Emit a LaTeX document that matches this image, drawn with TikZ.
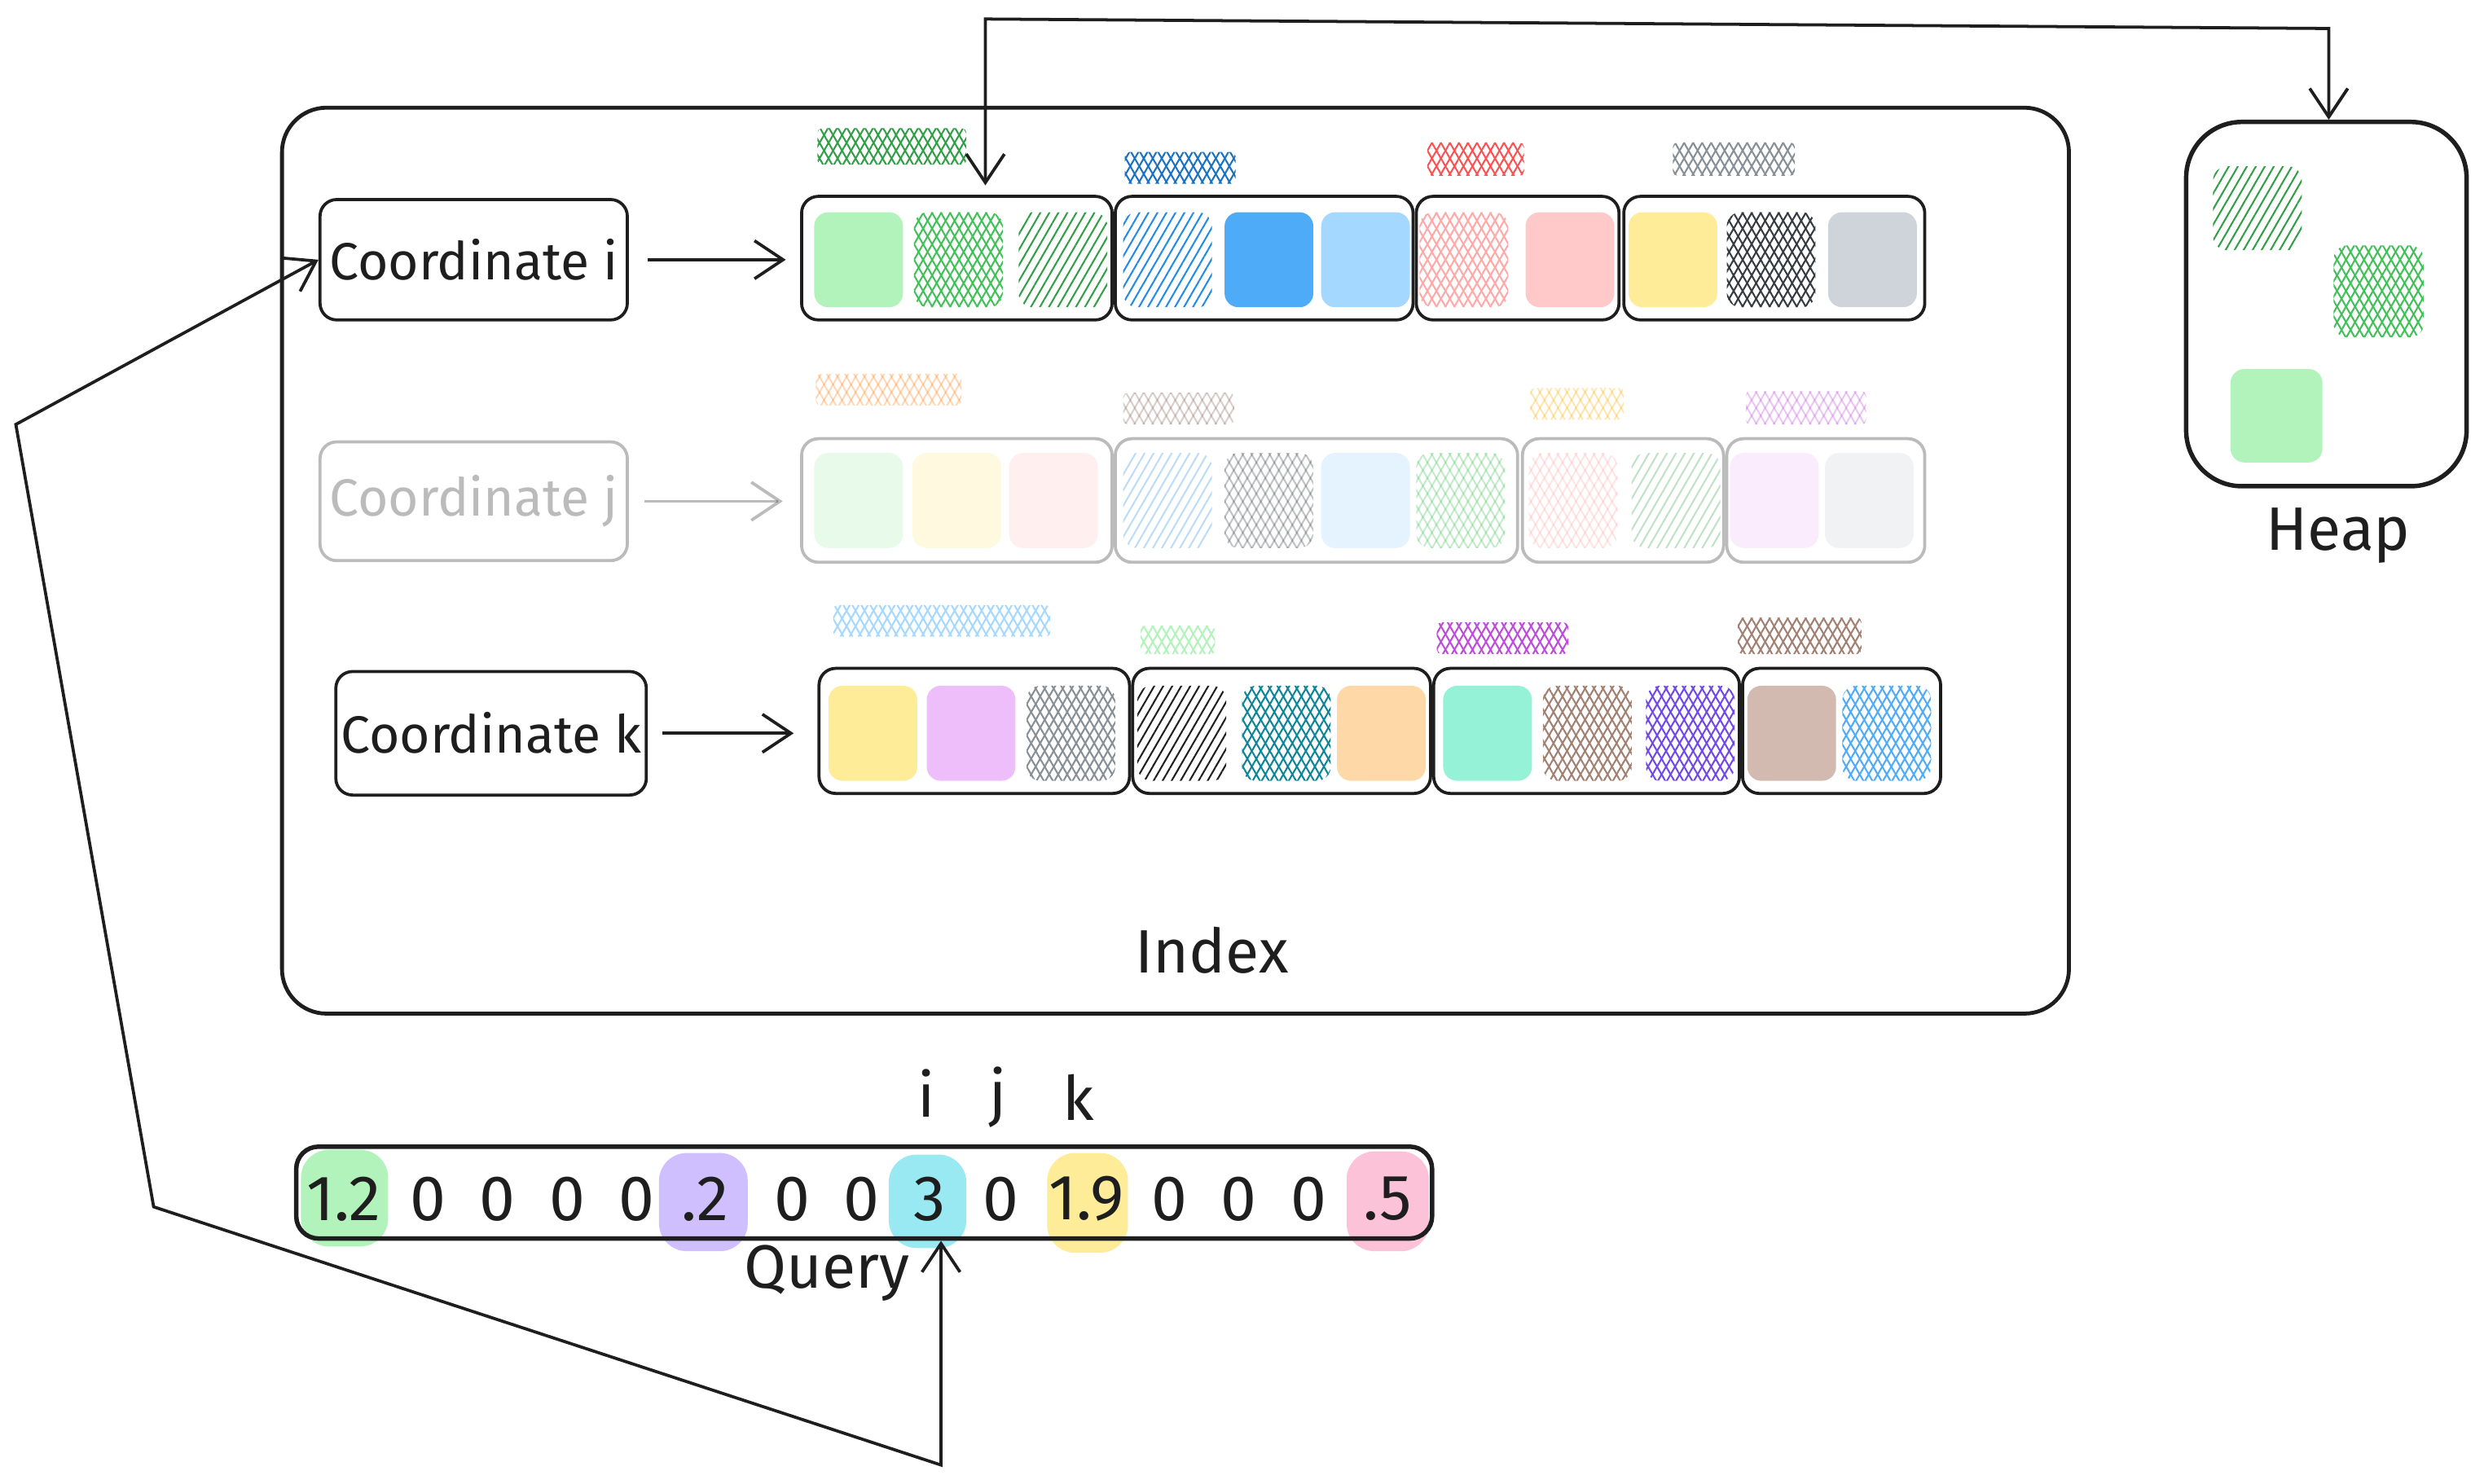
\documentclass[tikz,border=0pt]{standalone}
\usepackage{fontspec}
\setmainfont{Fira Sans}
\usetikzlibrary{arrows.meta, fit, patterns.meta, positioning}

% palette
\definecolor{ink}{HTML}{1E1E1E}
\definecolor{lgreen}{HTML}{B2F2BB}
\definecolor{green}{HTML}{40C057}
\definecolor{dgreen}{HTML}{2F9E44}
\definecolor{lblue}{HTML}{A5D8FF}
\definecolor{blue}{HTML}{4DABF7}
\definecolor{blue2}{HTML}{228BE6}
\definecolor{dblue}{HTML}{1971C2}
\definecolor{lred}{HTML}{FFC9C9}
\definecolor{red2}{HTML}{FFA8A8}
\definecolor{red}{HTML}{FA5252}
\definecolor{lyellow}{HTML}{FFEC99}
\definecolor{yellow}{HTML}{FAB005}
\definecolor{lgray}{HTML}{CED4DA}
\definecolor{gray}{HTML}{868E96}
\definecolor{dgray}{HTML}{343A40}
\definecolor{lgrape}{HTML}{EEBEFA}
\definecolor{grape}{HTML}{BE4BDB}
\definecolor{lviolet}{HTML}{D0BFFF}
\definecolor{violet}{HTML}{7048E8}
\definecolor{lteal}{HTML}{96F2D7}
\definecolor{teal}{HTML}{0C8599}
\definecolor{lorange}{HTML}{FFD8A8}
\definecolor{orange}{HTML}{FD7E14}
\definecolor{lbrown}{HTML}{D2BAB0}
\definecolor{brown}{HTML}{A18072}
\definecolor{dbrown}{HTML}{846358}
\definecolor{lcyan}{HTML}{99E9F2}
\definecolor{lpink}{HTML}{FCC2D7}

\newcommand{\swatch}[3]{\path[#3] (#1-28,#2-30) rectangle (#1+28,#2+30);}

\begin{document}
\begin{tikzpicture}[x=0.01cm, y=-0.01cm,
    >={Straight Barb[length=1.8mm,width=2.4mm]},
    grp/.style={draw=ink, line width=0.55pt, rounded corners=3pt, inner sep=0pt},
    ctext/.style={text=ink, font=\fontsize{9.4}{11}\selectfont},
    cbox/.style={grp, label={[ctext]center:#1}},
    container/.style={draw=ink, line width=0.7pt, rounded corners=8pt, inner sep=0pt},
    lbl/.style={text=ink, font=\fontsize{11}{13}\selectfont},
    val/.style={text=ink, font=\fontsize{11.5}{13}\selectfont},
    link/.style={draw=ink, line width=0.55pt},
    blob/.style={fill=#1, rounded corners=5pt},
    sfill/.style={fill=#1, rounded corners=2.5pt},
    hfill/.style={pattern={Lines[angle=60,distance=1.4pt,line width=0.3pt]}, pattern color=#1, rounded corners=2.5pt},
    xfill/.style={hfill=#1, preaction={pattern={Lines[angle=120,distance=1.4pt,line width=0.3pt]}, pattern color=#1}},
    tag/.style={xfill=#1, rounded corners=0.8pt}]
    \useasboundingbox (0,0) rectangle (1568,937);

    % Containers
    \node[container, fit={(178,68) (1306,640)}] (index) {};
    \node[lbl] (indexlabel) at (765,600) {Index};
    \node[container, line width=0.8pt, rounded corners=10pt, fit={(1380,77) (1557,307)}] (heap) {};
    \node[lbl] (heaplabel) at (1476,338) {Heap};

    % Heap contents
    \path[hfill=dgreen] (1397,105) rectangle (1453,158);
    \path[xfill=green] (1473,155) rectangle (1530,213);
    \path[sfill=lgreen] (1408,233) rectangle (1466,292);

    % Row i
    \node[cbox=Coordinate i, fit={(202,126) (396,202)}] (ci) {};
    \node[grp, fit={(506,124) (702,202)}] (i1) {};
    \node[grp, fit={(704,124) (892,202)}] (i2) {};
    \node[grp, fit={(894,124) (1022,202)}] (i3) {};
    \node[grp, fit={(1025,124) (1215,202)}] (i4) {};
    \swatch{542}{164}{sfill=lgreen}
    \swatch{605}{164}{xfill=green}
    \swatch{671}{164}{hfill=dgreen}
    \swatch{737}{164}{hfill=blue2}
    \swatch{801}{164}{sfill=blue}
    \swatch{862}{164}{sfill=lblue}
    \swatch{924}{164}{xfill=red2}
    \swatch{991}{164}{sfill=lred}
    \swatch{1056}{164}{sfill=lyellow}
    \swatch{1118}{164}{xfill=dgray}
    \swatch{1182}{164}{sfill=lgray}
    \path[tag=dgreen] (516,81) rectangle (610,104);
    \path[tag=dblue] (710,96) rectangle (780,116);
    \path[tag=red] (901,90) rectangle (962,111);
    \path[tag=gray] (1056,90) rectangle (1133,111);
    \draw[link, ->, shorten <=1.2mm, shorten >=0.9mm] (ci.east) -- (ci.east -| i1.west);

    % Row j (faded)
    \begin{scope}[opacity=0.3]
        \node[cbox=Coordinate j, fit={(202,279) (396,354)}] (cj) {};
        \node[grp, fit={(506,277) (702,355)}] (j1) {};
        \node[grp, fit={(704,277) (958,355)}] (j2) {};
        \node[grp, fit={(961,277) (1088,355)}] (j3) {};
        \node[grp, fit={(1090,277) (1215,355)}] (j4) {};
        \swatch{542}{316}{sfill=lgreen}
        \swatch{604}{316}{sfill=lyellow}
        \swatch{665}{316}{sfill=lred}
        \swatch{737}{316}{hfill=blue2}
        \swatch{801}{316}{xfill=dgray}
        \swatch{862}{316}{sfill=lblue}
        \swatch{922}{316}{xfill=green}
        \swatch{993}{316}{xfill=red2}
        \swatch{1058}{316}{hfill=dgreen}
        \swatch{1120}{316}{sfill=lgrape}
        \swatch{1180}{316}{sfill=lgray}
        \path[tag=orange] (515,236) rectangle (607,256);
        \path[tag=dbrown] (709,248) rectangle (779,268);
        \path[tag=yellow] (966,245) rectangle (1025,265);
        \path[tag=grape] (1102,247) rectangle (1178,268);
        \draw[link, ->, shorten <=1mm, shorten >=1.1mm] (cj.east) -- (cj.east -| j1.west);
    \end{scope}

    % Row k
    \node[cbox=Coordinate k, fit={(212,424) (408,502)}] (ck) {};
    \node[grp, fit={(517,422) (713,501)}] (k1) {};
    \node[grp, fit={(715,422) (903,501)}] (k2) {};
    \node[grp, fit={(905,422) (1098,501)}] (k3) {};
    \node[grp, fit={(1100,422) (1225,501)}] (k4) {};
    \swatch{551}{463}{sfill=lyellow}
    \swatch{613}{463}{sfill=lgrape}
    \swatch{676}{463}{xfill=gray}
    \swatch{746}{463}{hfill=ink}
    \swatch{812}{463}{xfill=teal}
    \swatch{872}{463}{sfill=lorange}
    \swatch{939}{463}{sfill=lteal}
    \swatch{1002}{463}{xfill=brown}
    \swatch{1067}{463}{xfill=violet}
    \swatch{1131}{463}{sfill=lbrown}
    \swatch{1191}{463}{xfill=blue}
    \path[tag=lblue] (526,382) rectangle (663,402);
    \path[tag=lgreen] (720,395) rectangle (767,413);
    \path[tag=grape] (907,393) rectangle (990,413);
    \path[tag=brown] (1097,390) rectangle (1175,413);
    \draw[link, ->, shorten <=0.9mm, shorten >=1.5mm] (ck.east) -- (ck.east -| k1.west);

    % Query vector
    \path[blob=lgreen] (190,726) rectangle (245,787);
    \path[blob=lviolet] (416,728) rectangle (472,790);
    \path[blob=lcyan] (561,729) rectangle (610,788);
    \path[blob=lyellow] (661,728) rectangle (712,791);
    \path[blob=lpink] (850,727) rectangle (902,790);
    \node[grp, line width=0.8pt, rounded corners=4pt, fit={(187,724) (904,782)}] (query) {};
    \foreach \x/\v [count=\n] in {217/1.2, 270/0, 314/0, 358/0, 402/0, 445/.2, 500/0, 544/0,
        587/3, 632/0, 686/1.9, 738/0, 782/0, 826/0, 876/.5}
        \node[val] (q\n) at (\x,757) {\v};
    \node[lbl] (qlabel) at (522,804) {Query};
    \node[lbl] (li) at (585,690) {i};
    \node[lbl] (lj) at (630,693) {j};
    \node[lbl] (lk) at (681,693) {k};

    % Connectors
    \coordinate (tl) at (622,12);
    \coordinate (tr) at (1470,18);
    \draw[link, <->, shorten <=0.6mm] (tl |- i1.north) -- (tl) -- (tr) -- (tr |- heap.north);
    \coordinate (lb1) at (10,268);
    \coordinate (lb2) at (97,762);
    \coordinate (lb3) at (594,925);
    \draw[link, <->] (ci.west) -- (lb1) -- (lb2) -- (lb3) -- (lb3 |- query.south);
\end{tikzpicture}
\end{document}
